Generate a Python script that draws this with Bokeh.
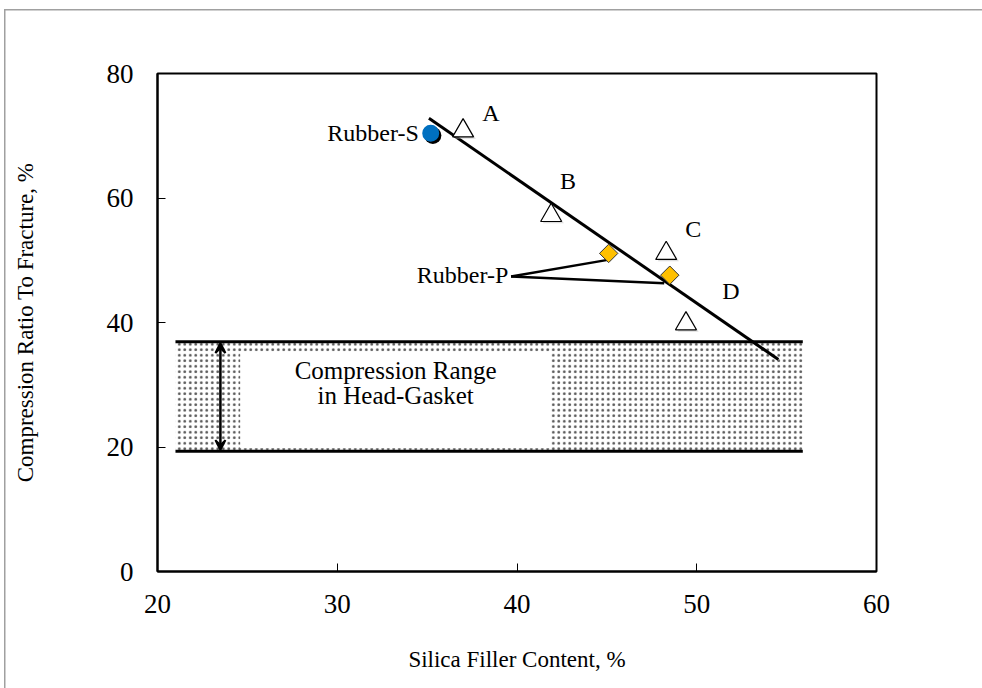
import numpy as np
from bokeh.plotting import figure
from bokeh.models import Arrow, VeeHead, Range1d, FixedTicker
from bokeh.core.properties import value
from bokeh.embed import file_html
from bokeh.resources import INLINE

# ---- data ----
tri_labels = ["A", "B", "C", "D"]
tri_x = [37.0, 41.9, 48.3, 49.4]
tri_y = [70.8, 57.2, 51.1, 39.8]
tri_label_x = [38.55, 42.84, 49.8, 51.9]
tri_label_y = [73.7, 62.8, 55.1, 45.1]

rubber_s_x = [35.2]
rubber_s_y = [70.4]

rubber_p_x = [45.1, 48.5]
rubber_p_y = [51.1, 47.6]
rubber_p_leader_x0 = [39.67, 39.67]
rubber_p_leader_y0 = [47.4, 47.4]
rubber_p_leader_x1 = [45.13, 48.19]
rubber_p_leader_y1 = [50.1, 46.3]

trend_x = [35.1, 54.54]
trend_y = [72.8, 34.06]

band_x = [21.0, 55.9]
band_top = 36.9
band_bottom = 19.3
band_inner_x = [24.6, 41.9]
band_inner_y = [19.8, 35.2]
band_text = ["Compression Range", "in Head-Gasket"]
band_text_y = [32.3, 28.2]
arrow_x = 23.5

x_ticks = [20, 30, 40, 50, 60]
y_ticks = [0, 20, 40, 60, 80]

FONT = "Liberation Serif"

p = figure(width=982, height=688, output_backend="svg", toolbar_location=None,
           x_range=Range1d(20, 60), y_range=Range1d(0, 80),
           min_border_left=157, min_border_top=73, min_border_right=106,
           min_border_bottom=117)
p.background_fill_color = "white"
p.border_fill_color = None
p.styles = {
    "background": "linear-gradient(#a0a0a0,#a0a0a0) 4px 9px / 1.5px 700px no-repeat, "
                  "linear-gradient(#a0a0a0,#a0a0a0) 4px 9px / 1000px 1.5px no-repeat, white"
}
p.grid.visible = False
p.outline_line_color = "black"
p.outline_line_width = 2

for ax in (p.xaxis[0], p.yaxis[0]):
    ax.axis_line_color = "black"
    ax.axis_line_width = 2
    ax.major_tick_in = 8
    ax.major_tick_out = 0
    ax.minor_tick_line_color = None
    ax.major_tick_line_color = "black"
    ax.major_tick_line_width = 1
    ax.major_label_text_font = FONT
    ax.major_label_text_font_size = "27px"
    ax.major_label_text_color = "black"
    ax.axis_label_text_font = FONT
    ax.axis_label_text_font_size = "23px"
    ax.axis_label_text_font_style = "normal"
    ax.axis_label_text_color = "black"

p.xaxis.ticker = FixedTicker(ticks=x_ticks)
p.yaxis.ticker = FixedTicker(ticks=y_ticks)
p.xaxis.axis_label = "Silica Filler Content, %"
p.yaxis.axis_label = "Compression Ratio To Fracture, %"
p.xaxis.major_label_standoff = 23
p.yaxis.major_label_standoff = 24
p.xaxis.axis_label_standoff = 31
p.yaxis.axis_label_standoff = 66

# ---- shaded band ----
p.quad(left=[band_x[0]], right=[band_x[1]], bottom=[band_bottom], top=[band_top],
       fill_color="white", line_color=None, hatch_pattern=".", hatch_color="#555555",
       hatch_scale=5.5, hatch_weight=1.2)
p.quad(left=[band_inner_x[0]], right=[band_inner_x[1]], bottom=[band_inner_y[0]],
       top=[band_inner_y[1]], fill_color="white", line_color=None)
p.segment(x0=[band_x[0], band_x[0]], y0=[band_top, band_bottom],
          x1=[band_x[1], band_x[1]], y1=[band_top, band_bottom],
          line_color="black", line_width=3)

p.add_layout(Arrow(start=VeeHead(size=10, line_width=2, fill_color="black"),
                   end=VeeHead(size=10, line_width=2, fill_color="black"),
                   x_start=arrow_x, y_start=band_bottom + 0.2,
                   x_end=arrow_x, y_end=band_top - 0.2,
                   line_width=2.5, line_color="black"))

p.text(x=[(band_inner_x[0] + band_inner_x[1]) / 2] * 2, y=band_text_y,
       text=band_text, text_align="center",
       text_baseline="middle", text_font=value(FONT), text_font_size="25px",
       text_color="black")

# ---- trend line ----
p.line(x=trend_x, y=trend_y, line_color="black", line_width=3)

# ---- Rubber-P leaders and diamonds ----
p.segment(x0=rubber_p_leader_x0, y0=rubber_p_leader_y0, x1=rubber_p_leader_x1,
          y1=rubber_p_leader_y1, line_color="black", line_width=2.5)
p.scatter(x=rubber_p_x, y=rubber_p_y, marker="square", angle=np.pi / 4, size=13,
          fill_color="#FFC000", line_color="#333333", line_width=1)
p.text(x=[rubber_p_leader_x0[0] - 0.15], y=[rubber_p_leader_y0[0] + 0.2], text=["Rubber-P"],
       text_align="right", text_baseline="middle", text_font=value(FONT),
       text_font_size="24px", text_color="black")

# ---- triangles ----
p.scatter(x=[v + 0.12 for v in tri_x], y=[v - 0.3 for v in tri_y], marker="triangle",
          size=21, fill_color="#bbbbbb", line_color=None, fill_alpha=0.5)
p.scatter(x=tri_x, y=tri_y, marker="triangle", size=21, fill_color="white",
          line_color="black", line_width=1.2)
p.text(x=tri_label_x, y=tri_label_y, text=tri_labels, text_align="center",
       text_baseline="middle", text_font=value(FONT), text_font_size="24px",
       text_color="black")

# ---- Rubber-S ----
p.scatter(x=[v + 0.12 for v in rubber_s_x], y=[v - 0.35 for v in rubber_s_y],
          marker="circle", size=17, fill_color="black", line_color=None)
p.scatter(x=rubber_s_x, y=rubber_s_y, marker="circle", size=17,
          fill_color="#0070C0", line_color=None)
p.text(x=[rubber_s_x[0] - 0.66], y=rubber_s_y, text=["Rubber-S"], text_align="right",
       text_baseline="middle", text_font=value(FONT), text_font_size="24px",
       text_color="black")

open("out.html", "w").write(file_html(p, INLINE))
